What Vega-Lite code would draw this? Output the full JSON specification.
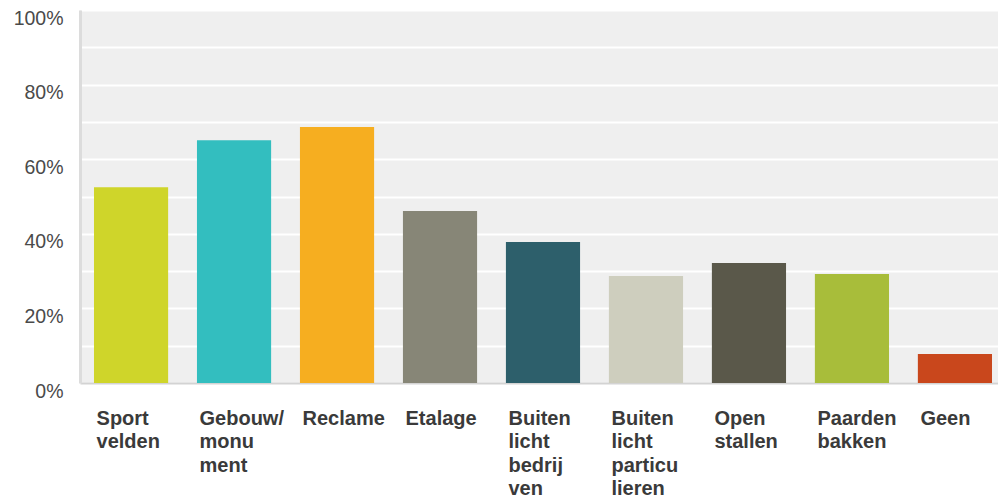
{
  "$schema": "https://vega.github.io/schema/vega-lite/v6.json",
  "autosize": {"type": "none"},
  "width": 918,
  "height": 373,
  "padding": {"left": 80, "top": 10, "right": 0, "bottom": 116},
  "background": "white",
  "config": {
    "view": {"fill": "#efefef", "stroke": null},
    "font": "Liberation Sans"
  },
  "data": {
    "values": [
      {"category": "Sport|velden", "value": 52.5, "color": "#CFD52A"},
      {"category": "Gebouw/|monu|ment", "value": 65.1, "color": "#33BEBF"},
      {"category": "Reclame", "value": 68.6, "color": "#F6AE20"},
      {"category": "Etalage", "value": 46.1, "color": "#878677"},
      {"category": "Buiten|licht|bedrij|ven", "value": 37.8, "color": "#2D5F6B"},
      {"category": "Buiten|licht|particu|lieren", "value": 28.7, "color": "#CECEBE"},
      {"category": "Open|stallen", "value": 32.2, "color": "#5A584A"},
      {"category": "Paarden|bakken", "value": 29.2, "color": "#A8BD3A"},
      {"category": "Geen", "value": 7.8, "color": "#C9471C"}
    ]
  },
  "mark": {"type": "bar"},
  "encoding": {
    "x": {
      "field": "category",
      "type": "nominal",
      "sort": null,
      "scale": {"paddingInner": 0.28, "paddingOuter": 0.097, "align": 0.7},
      "axis": {
        "title": null,
        "labelAngle": 0,
        "labelAlign": "left",
        "labelBaseline": "top",
        "labelOffset": -34.5,
        "labelPadding": 25,
        "labelExpr": "split(datum.label, '|')",
        "labelLineHeight": 23.5,
        "labelFont": "Liberation Sans",
        "labelFontSize": 20,
        "labelFontWeight": "bold",
        "labelColor": "#3a3a3a",
        "labelLimit": 0,
        "labelOverlap": false,
        "ticks": false,
        "domainColor": "#d3d3d3",
        "domainWidth": 2
      }
    },
    "y": {
      "field": "value",
      "type": "quantitative",
      "scale": {"domain": [0, 100], "nice": false},
      "axis": {
        "title": null,
        "values": [0, 10, 20, 30, 40, 50, 60, 70, 80, 90, 100],
        "labelExpr": "datum.value % 20 == 0 ? datum.value + '%' : ''",
        "labelFont": "Liberation Sans",
        "labelFontSize": 19.5,
        "labelColor": "#4a4a4a",
        "labelBaseline": "alphabetic",
        "labelOffset": 14,
        "labelPadding": 17,
        "ticks": false,
        "gridColor": "white",
        "gridWidth": 2,
        "domainColor": "#dcdcdc",
        "domainWidth": 3
      }
    },
    "color": {"field": "color", "type": "nominal", "scale": null, "legend": null}
  }
}
